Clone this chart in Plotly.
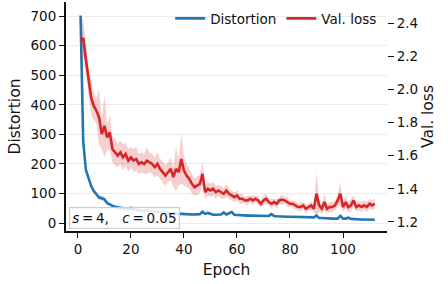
import numpy as np
import plotly.graph_objects as go

epochs = list(range(1, 113))

distortion = [702, 275, 180, 150, 125, 108, 95, 86, 84, 80,
              68, 62, 58, 55, 53, 50, 50, 48, 47, 52,
              46, 44, 43, 42, 41, 43, 40, 39, 38, 37,
              36, 36, 35, 34, 33, 33, 32, 31, 31, 30,
              30, 30, 29, 29, 29, 30, 38, 31, 34, 30,
              28, 28, 28, 29, 36, 29, 33, 37, 28, 27,
              27, 26, 26, 25, 25, 25, 24, 24, 24, 25,
              26, 24, 30, 24, 23, 22, 22, 22, 21, 21,
              21, 21, 20, 20, 20, 20, 19, 19, 19, 25,
              17, 17, 16, 16, 16, 15, 15, 15, 24, 15,
              15, 18, 14, 13, 13, 13, 12, 12, 12, 11,
              11, 11]

distortion_std = [8, 12, 9, 8, 7, 7, 6, 7, 8, 8,
                  6, 6, 5, 5, 5, 5, 5, 4, 4, 5,
                  4, 4, 4, 4, 3, 4, 3, 3, 3, 3,
                  3, 3, 3, 3, 3, 3, 3, 3, 3, 3,
                  3, 3, 3, 3, 3, 3, 4, 3, 3, 3,
                  3, 3, 3, 3, 3, 3, 3, 3, 3, 3,
                  2, 2, 2, 2, 2, 2, 2, 2, 2, 2,
                  2, 2, 3, 2, 2, 2, 2, 2, 2, 2,
                  2, 2, 2, 2, 2, 2, 2, 2, 2, 4,
                  2, 2, 2, 2, 2, 2, 2, 2, 3, 2,
                  2, 2, 2, 2, 2, 2, 2, 2, 2, 2,
                  2, 2]

val_loss = [2.29, 2.31, 2.18, 2.05, 1.95, 1.90, 1.87, 1.83, 1.73, 1.78,
            1.71, 1.74, 1.64, 1.62, 1.60, 1.62, 1.59, 1.61, 1.57, 1.59,
            1.57, 1.58, 1.55, 1.56, 1.55, 1.57, 1.56, 1.55, 1.53, 1.55,
            1.52, 1.50, 1.48, 1.50, 1.52, 1.47, 1.52, 1.50, 1.58, 1.51,
            1.48, 1.46, 1.43, 1.41, 1.42, 1.43, 1.49, 1.38, 1.40, 1.39,
            1.40, 1.38, 1.39, 1.38, 1.37, 1.39, 1.37, 1.36, 1.35, 1.36,
            1.34, 1.34, 1.33, 1.33, 1.34, 1.33, 1.34, 1.33, 1.31, 1.33,
            1.34, 1.32, 1.31, 1.32, 1.31, 1.33, 1.335, 1.33, 1.32, 1.31,
            1.31, 1.30, 1.29, 1.29, 1.30, 1.28, 1.29, 1.30, 1.28, 1.37,
            1.30, 1.28, 1.32, 1.28, 1.29, 1.29, 1.30, 1.33, 1.37, 1.29,
            1.32, 1.29, 1.30, 1.33, 1.29, 1.30, 1.29, 1.30, 1.29, 1.31,
            1.30, 1.31]

val_loss_std = [0.13, 0.11, 0.09, 0.08, 0.10, 0.08, 0.08, 0.17, 0.09, 0.19,
                0.08, 0.10, 0.08, 0.08, 0.07, 0.07, 0.08, 0.07, 0.07, 0.06,
                0.07, 0.07, 0.06, 0.06, 0.06, 0.08, 0.06, 0.06, 0.06, 0.07,
                0.06, 0.07, 0.06, 0.06, 0.07, 0.06, 0.13, 0.08, 0.15, 0.09,
                0.07, 0.06, 0.06, 0.05, 0.06, 0.05, 0.07, 0.04, 0.04, 0.04,
                0.04, 0.04, 0.03, 0.04, 0.03, 0.04, 0.03, 0.03, 0.03, 0.03,
                0.03, 0.03, 0.02, 0.03, 0.02, 0.03, 0.02, 0.03, 0.02, 0.03,
                0.03, 0.02, 0.03, 0.02, 0.03, 0.02, 0.03, 0.02, 0.03, 0.02,
                0.02, 0.03, 0.02, 0.03, 0.02, 0.03, 0.02, 0.03, 0.02, 0.13,
                0.04, 0.03, 0.05, 0.03, 0.03, 0.03, 0.03, 0.04, 0.07, 0.03,
                0.04, 0.03, 0.04, 0.03, 0.03, 0.03, 0.03, 0.03, 0.03, 0.03,
                0.03, 0.03]

left_ticks = [0, 100, 200, 300, 400, 500, 600, 700]
right_ticks = [1.2, 1.4, 1.6, 1.8, 2.0, 2.2, 2.4]
x_ticks = [0, 20, 40, 60, 80, 100]

BLUE = "#1f77b4"
RED = "#d62728"
FONT = "DejaVu Sans"

d = np.array(distortion, float)
ds = np.array(distortion_std, float)
v = np.array(val_loss, float)
vs = np.array(val_loss_std, float)

fig = go.Figure()

fig.add_trace(go.Scatter(x=epochs, y=d + ds, mode="lines", line=dict(width=0),
                         showlegend=False, hoverinfo="skip", yaxis="y"))
fig.add_trace(go.Scatter(x=epochs, y=d - ds, mode="lines", line=dict(width=0),
                         fill="tonexty", fillcolor="rgba(31,119,180,0.25)",
                         showlegend=False, hoverinfo="skip", yaxis="y"))
fig.add_trace(go.Scatter(x=epochs, y=distortion, mode="lines", name="Distortion",
                         line=dict(color=BLUE, width=2.6), yaxis="y"))

fig.add_trace(go.Scatter(x=epochs, y=v + vs, mode="lines", line=dict(width=0),
                         showlegend=False, hoverinfo="skip", yaxis="y2"))
fig.add_trace(go.Scatter(x=epochs, y=v - vs, mode="lines", line=dict(width=0),
                         fill="tonexty", fillcolor="rgba(214,39,40,0.22)",
                         showlegend=False, hoverinfo="skip", yaxis="y2"))
fig.add_trace(go.Scatter(x=epochs, y=val_loss, mode="lines", name="Val. loss",
                         line=dict(color=RED, width=2.6), yaxis="y2"))

fig.update_layout(
    width=448, height=284,
    margin=dict(l=66, r=61, t=2, b=53, autoexpand=False),
    paper_bgcolor="white", plot_bgcolor="white",
    font=dict(family=FONT, size=13.5, color="#111"),
    showlegend=True,
    legend=dict(orientation="h", x=0.985, xanchor="right", y=0.995, yanchor="top",
                bgcolor="rgba(255,255,255,0)", font=dict(size=13.5),
                traceorder="normal", itemwidth=30, tracegroupgap=0),
    xaxis=dict(range=[-4.5, 116.6], tickvals=x_ticks, ticks="outside", ticklen=5,
               tickwidth=1.3, tickcolor="#111", showline=True, linecolor="#111",
               linewidth=2, showgrid=False, zeroline=False,
               title=dict(text="Epoch", font=dict(size=15.5), standoff=8)),
    yaxis=dict(range=[-27, 748], tickvals=left_ticks, ticks="outside", ticklen=5,
               tickwidth=1.3, tickcolor="#111", showline=True, linecolor="#111",
               linewidth=2, showgrid=True, gridcolor="#ebebeb", gridwidth=1,
               zeroline=False,
               title=dict(text="Distortion", font=dict(size=15.5), standoff=6)),
    yaxis2=dict(range=[1.1455, 2.527], tickvals=right_ticks,
                ticktext=[f"{t:.1f}" for t in right_ticks],
                overlaying="y", side="right", ticks="outside", ticklen=6,
                tickwidth=1.3, tickcolor="#111", showline=False, showgrid=False,
                zeroline=False,
                title=dict(text="Val. loss", font=dict(size=15.5), standoff=4)),
)

fig.add_annotation(
    xref="paper", yref="paper", x=0.01, y=0.01, xanchor="left", yanchor="bottom",
    text="<i>s</i>\u2009=\u20094,\u2003<i>c</i>\u2009=\u20090.05",
    showarrow=False, font=dict(family=FONT, size=13.5, color="#111"),
    bgcolor="rgba(255,255,255,0.85)", bordercolor="#cccccc", borderwidth=1.2,
    borderpad=2,
)

fig.write_html("out.html", config={"displayModeBar": False},
               post_script="document.body.style.margin='0';document.body.style.padding='0';")
